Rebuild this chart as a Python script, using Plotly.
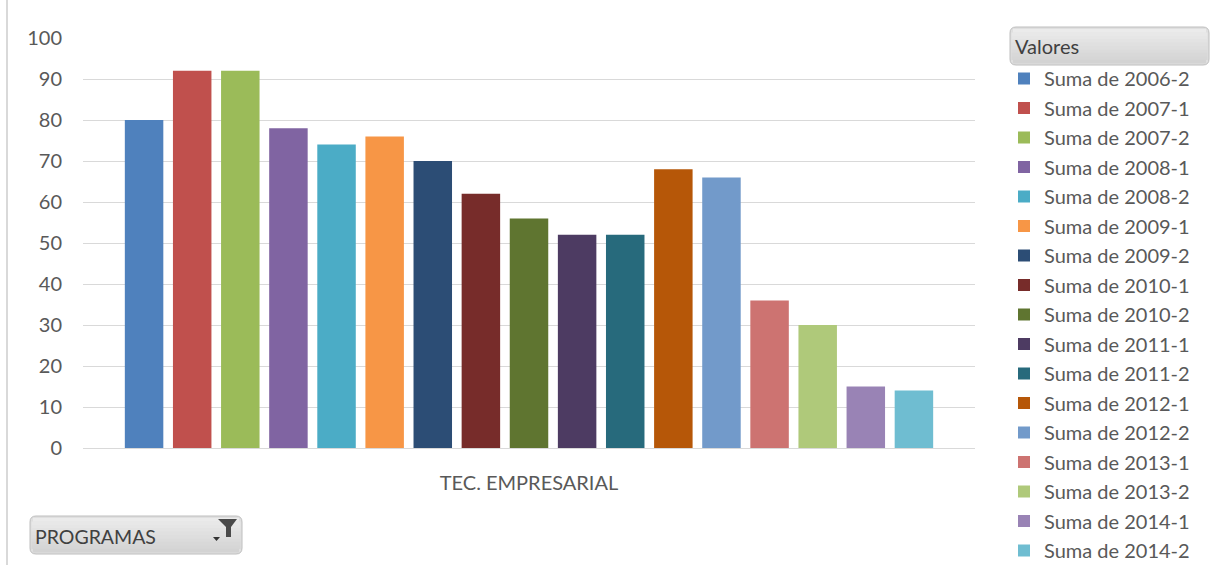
import plotly.graph_objects as go

# Pivot chart data: one program, one bar per academic period
programa = "TEC. EMPRESARIAL"
periodos = ["2006-2", "2007-1", "2007-2", "2008-1", "2008-2", "2009-1", "2009-2",
            "2010-1", "2010-2", "2011-1", "2011-2", "2012-1", "2012-2", "2013-1",
            "2013-2", "2014-1", "2014-2"]
valores = [80, 92, 92, 78, 74, 76, 70, 62, 56, 52, 52, 68, 66, 36, 30, 15, 14]
colores = ["#4F81BD", "#C0504D", "#9BBB59", "#8064A2", "#4BACC6", "#F79646", "#2C4D75",
           "#772C2A", "#5F7530", "#4D3B62", "#276A7C", "#B65708", "#729ACA", "#CD7371",
           "#AFC97A", "#9983B5", "#6FBDD1"]
y_ticks = [0, 10, 20, 30, 40, 50, 60, 70, 80, 90, 100]

FONT = "Lato, 'Open Sans', sans-serif"
GRAY_TXT = "#595959"
FS = 20

fig = go.Figure()
for i, (p, v, c) in enumerate(zip(periodos, valores, colores)):
    fig.add_trace(go.Bar(
        x=[programa], y=[v], name="Suma de " + p,
        marker=dict(color=c, line=dict(width=0)),
        legendgroup=str(i),
    ))

W, H = 1221, 565
ML, MR, MT, MB = 83, 246, 38, 117
pw = W - ML - MR
ph = H - MT - MB


def px_x(x):
    return (x - ML) / pw


def px_y(y):
    return 1 - (y - MT) / ph


fig.update_layout(
    width=W, height=H,
    margin=dict(l=ML, r=MR, t=MT, b=MB, pad=0, autoexpand=False),
    paper_bgcolor="white", plot_bgcolor="white",
    barmode="group", bargap=0.083, bargroupgap=0.2,
    font=dict(family=FONT, size=FS, color=GRAY_TXT),
    showlegend=True,
    legend=dict(
        x=px_x(1004), y=px_y(59), xanchor="left", yanchor="top",
        font=dict(family=FONT, size=FS, color=GRAY_TXT),
        tracegroupgap=0.5, bgcolor="rgba(0,0,0,0)",
        maxheight=560,
        itemclick=False, itemdoubleclick=False,
    ),
    xaxis=dict(
        showgrid=False, showline=False, ticks="",
        tickfont=dict(family=FONT, size=FS, color=GRAY_TXT),
        ticklabelstandoff=21,
    ),
    yaxis=dict(
        range=[0, 100], tickvals=y_ticks, showgrid=True,
        gridcolor="#D9D9D9", gridwidth=1, zeroline=True,
        zerolinecolor="#D9D9D9", zerolinewidth=1, showline=False,
        ticks="", tickfont=dict(family=FONT, size=FS, color=GRAY_TXT),
        ticklabelstandoff=20,
    ),
)


def button_path(x0, y0, x1, y1, r):
    # rounded rectangle given in pixels, returned in paper coordinates
    rx = r / pw
    ry = r / ph
    a, b, c, d = px_x(x0), px_y(y0), px_x(x1), px_y(y1)
    return (f"M {a+rx},{b} L {c-rx},{b} Q {c},{b} {c},{b-ry} "
            f"L {c},{d+ry} Q {c},{d} {c-rx},{d} L {a+rx},{d} "
            f"Q {a},{d} {a},{d+ry} L {a},{b-ry} Q {a},{b} {a+rx},{b} Z")


def poly_path(points):
    pts = [f"{px_x(x)},{px_y(y)}" for x, y in points]
    return "M " + " L ".join(pts) + " Z"


def mix(c0, c1, t):
    a = [int(c0[k:k + 2], 16) for k in (1, 3, 5)]
    b = [int(c1[k:k + 2], 16) for k in (1, 3, 5)]
    return "#" + "".join(f"{round(u + (v - u) * t):02x}" for u, v in zip(a, b))


shapes = []
# left border of the chart area
shapes.append(dict(type="line", xref="paper", yref="paper",
                   x0=px_x(7), x1=px_x(7), y0=px_y(0), y1=px_y(565),
                   line=dict(color="#D9D9D9", width=2)))

# field buttons: "Valores" header and "PROGRAMAS" filter, with a vertical gradient
TOP, BOT = "#ECECEC", "#D2D2D2"
for (x0, y0, x1, y1) in [(1010, 27, 1209, 65), (30, 516, 242, 554)]:
    shapes.append(dict(type="path", xref="paper", yref="paper",
                       path=button_path(x0, y0, x1, y1, 6),
                       fillcolor=mix(TOP, BOT, 0.5), line=dict(color="#BEBEBE", width=1)))
    n = 10
    ya, yb = y0 + 2, y1 - 2
    for k in range(n):
        s0 = ya + (yb - ya) * k / n
        s1 = ya + (yb - ya) * (k + 1) / n
        inset = 3 if (k == 0 or k == n - 1) else 1.5
        shapes.append(dict(type="rect", xref="paper", yref="paper",
                           x0=px_x(x0 + inset), x1=px_x(x1 - inset),
                           y0=px_y(s0), y1=px_y(s1 + 0.4),
                           fillcolor=mix(TOP, BOT, (k + 0.5) / n), line=dict(width=0)))

# funnel icon
shapes.append(dict(type="path", xref="paper", yref="paper",
                   path=poly_path([(218, 519), (237, 519), (231, 527), (231, 537),
                                   (226, 537), (226, 527)]),
                   fillcolor="#4A4A4A", line=dict(width=0)))
# dropdown arrow
shapes.append(dict(type="path", xref="paper", yref="paper",
                   path=poly_path([(213, 537), (220, 537), (216.5, 541)]),
                   fillcolor="#333333", line=dict(width=0)))

fig.update_layout(shapes=shapes)

fig.add_annotation(text="Valores", xref="paper", yref="paper",
                   x=px_x(1013), y=px_y(46), xanchor="left", yanchor="middle",
                   showarrow=False, font=dict(family=FONT, size=FS, color="#404040"))
fig.add_annotation(text="PROGRAMAS", xref="paper", yref="paper",
                   x=px_x(33), y=px_y(536), xanchor="left", yanchor="middle",
                   showarrow=False, font=dict(family=FONT, size=19.5, color="#404040"))

fig.write_html("out.html")
